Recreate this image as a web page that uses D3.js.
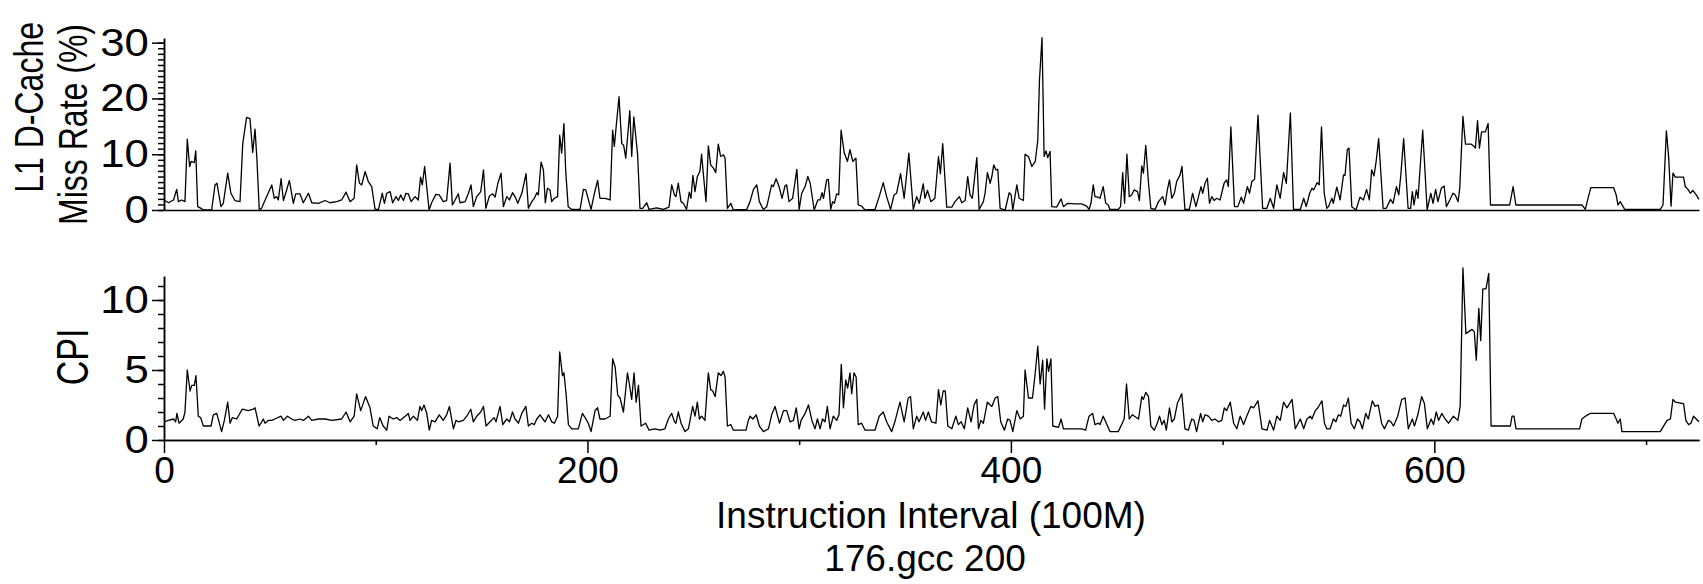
<!DOCTYPE html>
<html>
<head>
<meta charset="utf-8">
<script src="https://cdn.jsdelivr.net/npm/d3@7"></script>
<style>
  body { margin: 0; background: #fff; }
  svg { display: block; }
  .axis path, .axis line { stroke: #000; stroke-width: 1.5; }
  .axis text, .label { font-family: "Liberation Sans", Arial, sans-serif; font-size: 37px; fill: #000; }
  .yaxis text { font-size: 39px; }
  .trace { fill: none; stroke: #000; stroke-width: 1.3; stroke-linejoin: round; }
</style>
</head>
<body>
<svg id="chart" width="1703" height="584"></svg>
<script>
// Interval positions (100M instructions) and L1 D-cache miss rate (%)
const missX = [
  0, 2.1, 4.5, 6.0, 6.8, 8.3, 9.9, 11.0, 12.1, 12.8, 14.3, 15.0, 15.9, 17.5, 18.6, 22.5, 24.1, 25.0, 26.9, 28.0, 30.1, 31.6, 33.5, 35.9, 37.2, 39.0, 40.6, 41.9, 43.0, 43.9, 45.0, 46.1, 48.5, 50.9, 52.1, 53.2, 54.0, 55.3, 56.4, 57.5, 59.2, 61.1, 62.2, 64.2, 65.8, 68.2, 69.8, 72.9, 76.1, 78.4, 81.6, 83.9, 86.0, 87.9,
  89.8, 91.0, 92.3, 93.4, 95.0, 96.5, 98.1, 99.7, 101.3, 103.1, 104.1, 105.2, 106.8, 108.0, 109.6, 110.7, 111.8, 113.1, 114.3, 115.4, 116.7, 118.6, 120.1, 121.2, 122.0, 123.1, 125.2, 126.4, 128.4, 130.0, 131.9, 133.5, 135.1, 136.2, 137.4, 139.0, 139.8, 142.2, 143.8, 145.0, 146.1, 147.7, 149.6, 150.9, 152.0, 153.7, 155.3, 156.4, 157.7, 159.2, 160.3, 161.9, 163.2, 164.6, 165.8, 167.1, 169.0, 171.0, 172.1, 173.7, 174.9, 176.1, 176.8, 178.1, 179.2, 180.1, 181.1,
  182.3, 183.1, 184.4, 185.9, 186.9, 187.8, 188.9, 189.7, 190.9, 192.6, 196.5, 198.1, 199.2, 201.7, 203.3, 204.8, 205.9, 208.3, 210.7, 211.9, 212.7, 213.7, 214.9, 216.2, 217.1, 218.1, 220.0, 220.9, 221.9, 223.7, 224.8, 226.1, 228.0, 229.1, 232.7, 235.9, 238.5, 239.8, 241.1, 241.8, 242.9, 244.2, 245.3, 246.8, 248.1, 248.9, 249.8, 250.8, 251.9, 253.1, 253.9, 255.0, 256.0, 257.1, 258.2, 259.5, 260.6, 261.8, 262.9, 264.2, 265.0, 266.1, 267.7, 268.9,
  275.2, 276.8, 278.4, 280.0, 281.2, 283.1, 284.7, 287.0, 287.8, 289.1, 290.5, 291.9, 293.3, 294.1, 295.2, 296.9, 298.9, 300.0, 301.2, 302.8, 304.1, 305.2, 307.1, 308.8, 309.9, 310.8, 311.5, 313.0, 313.8, 314.9, 315.8, 316.6, 317.7, 318.7, 319.8, 321.3, 322.8, 324.0, 325.3, 326.8, 327.9, 329.5, 331.1, 335.8, 337.8, 339.7, 341.3, 343.2, 344.8, 346.0, 347.9, 349.6, 351.8, 353.9, 355.5, 356.7, 358.6, 359.4, 360.6, 362.2, 364.1,
  365.8, 366.7, 367.8, 369.7, 372.1, 373.6, 375.7, 376.8, 378.4, 379.6, 380.7, 381.8, 383.9, 385.0, 387.0, 387.8, 388.9, 390.2, 391.0, 391.9, 392.9, 393.8, 394.9, 397.3, 399.2, 400.1, 400.9, 402.8, 403.9, 405.9, 406.7, 408.3, 409.9, 411.5, 412.7, 413.5, 414.7, 415.7, 416.6, 417.4, 418.5, 419.3, 421.6, 423.7, 424.8, 426.8, 430.3, 433.4, 435.8, 436.9, 437.8, 438.9, 439.7, 441.0, 442.1, 443.6, 444.8, 446.0, 446.8, 450.7, 451.8, 452.8, 453.7, 454.8, 455.9, 457.0,
  458.2, 459.8, 460.7, 461.8, 462.6, 463.7, 465.0, 466.1, 468.1, 469.7, 471.7, 472.8, 473.9, 474.9, 476.0, 477.2, 478.3, 479.9, 480.8, 482.2, 484.3, 485.8, 487.4, 488.8, 489.8, 490.6, 491.7, 492.8, 493.8, 494.9, 496.0, 497.2, 498.8, 500.7, 501.9, 502.7, 503.9, 505.6, 507.2, 508.8, 509.9, 511.7, 512.7, 513.8, 515.1, 516.7, 518.9, 520.9, 522.5, 524.1, 525.6, 527.2, 528.8, 530.1, 532.0, 533.5, 536.7, 538.3, 539.5, 541.1, 542.2, 543.0, 544.6, 545.6, 546.7, 548.0, 549.2,
  550.0, 551.6, 552.3, 553.9, 555.5, 557.1, 557.8, 558.9, 559.7, 561.0, 563.0, 564.9, 566.5, 568.0, 569.3, 570.4, 571.5, 572.6, 573.7, 575.8, 577.3, 579.3, 580.5, 582.1, 583.2, 584.1, 585.5, 587.6, 588.8, 589.6, 590.4, 591.5, 592.3, 594.5, 596.6, 598.3, 599.4, 600.6, 601.7, 603.3, 604.6, 605.7, 607.3, 608.8, 609.9, 611.2, 612.0, 613.5, 614.7, 617.5, 618.8, 619.4, 620.4, 621.3, 622.3, 624.1, 625.4, 626.5, 635.6, 637.2, 638.5,
  669.7, 671.3, 672.8, 673.9, 684.7, 685.9, 686.7, 687.8, 689.9, 706.7, 708.0, 709.6, 710.7, 711.8, 712.7, 713.8, 717.7, 718.5, 719.8, 720.9, 722.1, 723.7, 725.0
]
const missRate = [
  1.8, 1.3, 1.8, 3.7, 1.5, 1.8, 1.5, 12.7, 7.8, 8.7, 8.5, 10.6, 0.6, 0.3, 0, 0, 4.5, 4.8, 0.6, 1.2, 6.6, 3.0, 1.7, 1.5, 11.9, 16.6, 16.4, 10.3, 14.5, 9.0, 0, 0.3, 2.4, 4.5, 2.1, 2.4, 1.8, 5.6, 1.7, 3.0, 5.3, 1.2, 2.9, 2.9, 1.3, 3.0, 1.3, 1.2, 1.7, 1.3, 1.5, 1.8, 3.2, 1.5,
  2.1, 8.1, 4.8, 4.5, 6.9, 5.1, 4.2, 0.1, 0.1, 3.0, 1.2, 3.0, 3.3, 1.3, 2.4, 1.7, 2.7, 1.7, 3.0, 2.9, 1.5, 2.4, 1.8, 5.9, 4.5, 7.8, 0, 1.3, 2.8, 2.7, 1.5, 1.7, 8.4, 0.9, 1.7, 2.9, 1.3, 1.5, 3.0, 4.5, 0.6, 2.4, 3.3, 7.2, 0.3, 2.5, 2.9, 2.3, 4.8, 6.6, 0.6, 2.4, 1.8, 3.1, 2.4, 1.2, 3.0, 6.5, 0.3, 1.5, 2.1, 3.1, 2.7, 8.6, 7.2, 1.3, 3.9,
  3.6, 1.5, 2.1, 2.4, 13.4, 10.2, 15.5, 7.2, 0.6, 0.1, 0.1, 3.7, 3.6, 0.1, 3.0, 5.3, 2.1, 2.1, 1.8, 14.3, 11.4, 15.5, 20.3, 11.9, 11.6, 9.3, 17.8, 9.6, 16.7, 9.9, 0.3, 0.3, 1.3, 0.1, 0.4, 0.1, 0.5, 4.5, 2.7, 2.4, 4.8, 1.5, 1.2, 0.1, 3.2, 2.1, 6.2, 3.3, 6.0, 6.9, 10.0, 5.4, 1.5, 11.5, 8.1, 7.5, 6.7, 11.8, 9.6, 9.9, 9.3, 0.3, 1.2, 0,
  0.1, 1.5, 3.7, 4.5, 1.5, 0.1, 0.6, 4.5, 4.2, 5.6, 4.2, 2.1, 4.3, 4.5, 1.5, 2.1, 7.3, 0.1, 3.0, 4.2, 6.0, 4.8, 0, 1.8, 1.8, 3.1, 2.1, 5.4, 5.5, 0.1, 1.5, 1.2, 2.9, 2.7, 14.3, 10.2, 8.7, 10.8, 8.7, 9.3, 0.9, 0.7, 0, 0.1, 2.4, 4.9, 2.4, 0.1, 2.7, 3.0, 6.5, 2.1, 10.2, 0.1, 2.4, 1.2, 4.7, 2.1, 3.5, 1.5, 2.1,
  9.6, 6.5, 11.9, 0.5, 0.5, 1.5, 2.4, 1.3, 1.7, 6.0, 2.7, 2.1, 9.4, 0.1, 1.5, 3.0, 6.7, 4.8, 6.0, 8.1, 7.2, 7.3, 0.3, 0, 3.1, 2.7, 0, 4.5, 2.1, 1.7, 10.0, 9.6, 7.8, 8.7, 12.5, 23.3, 30.9, 9.6, 10.6, 9.4, 10.5, 0.6, 0.5, 2.0, 0.6, 1.2, 1.1, 1.1, 0.7, 0.1, 1.2, 4.5, 2.4, 2.3, 2.1, 4.2, 1.2, 0.9, 0.1, 0.1, 0.6, 6.7, 1.2, 10.0, 2.4, 2.7,
  3.6, 3.3, 1.7, 7.9, 6.6, 11.6, 4.8, 0.3, 0.1, 1.5, 2.4, 0.9, 3.6, 5.4, 2.1, 3.0, 5.1, 6.3, 7.8, 0.1, 0.1, 3.0, 0.6, 2.7, 4.2, 3.0, 4.8, 5.7, 1.2, 2.4, 1.7, 2.1, 1.8, 4.8, 5.4, 4.2, 14.9, 0.6, 0.6, 2.3, 1.2, 4.2, 3.0, 5.1, 5.5, 17.0, 0.3, 0.3, 2.1, 0.3, 4.5, 2.1, 6.7, 4.8, 17.4, 0.1, 0.1, 2.1, 0.6, 3.0, 3.9, 3.6, 4.9, 4.5, 14.9, 3.0, 0.3,
  0.6, 2.1, 1.2, 4.1, 1.8, 6.3, 6.2, 10.8, 11.1, 0.6, 0, 2.3, 1.8, 3.7, 1.8, 7.2, 6.1, 9.0, 12.8, 0.3, 0.3, 1.9, 1.2, 4.2, 2.7, 6.0, 12.8, 0.3, 0.3, 3.3, 0.9, 3.6, 2.1, 14.3, 0, 3.0, 1.2, 3.7, 1.5, 3.9, 4.3, 0.6, 1.8, 3.0, 2.7, 1.5, 3.9, 16.8, 11.8, 11.8, 11.4, 11.1, 16.0, 11.1, 14.0, 14.0, 15.5, 0.9, 0.9, 4.2, 0.9,
  0.9, 0.1, 2.4, 4.0, 4.0, 2.7, 0.9, 1.5, 0.1, 0.1, 0.9, 14.2, 9.3, 0.7, 6.6, 5.9, 5.9, 4.2, 3.7, 3.0, 3.5, 2.7, 1.9
]

// Interval positions and cycles per instruction
const cpiX = [
  0, 2.1, 4.5, 5.5, 6.1, 7.1, 9.1, 9.9, 11.0, 12.3, 13.1, 14.3, 15.1, 16.2, 17.3, 18.6, 22.2, 23.3, 24.9, 26.0, 27.2, 28.5, 30.1, 31.2, 32.3, 34.3, 37.0, 39.8, 42.2, 43.0, 44.9, 45.8, 46.9, 47.7, 49.3, 50.9, 52.4, 55.3, 56.4, 58.3, 60.3, 61.9, 64.2, 65.8, 68.2, 69.8, 72.9, 76.1, 79.2, 83.9, 86.0, 87.9,
  89.8, 91.0, 92.9, 95.2, 97.3, 98.8, 100.7, 101.9, 103.5, 105.2, 106.3, 108.3, 109.9, 111.5, 113.9, 115.4, 116.2, 117.8, 119.7, 120.9, 121.7, 122.8, 124.1, 125.3, 126.4, 128.0, 130.0, 131.9, 133.5, 134.8, 136.7, 137.9, 139.0, 141.4, 143.0, 144.9, 146.1, 147.7, 149.6, 150.9, 152.1, 154.0, 155.9, 156.8, 158.7, 160.0, 161.9, 163.2, 164.6, 165.8, 167.4, 169.0, 170.9, 172.1, 173.7, 174.9, 176.1, 177.6, 178.9, 180.0, 181.6,
  183.1, 184.4, 185.9, 186.9, 188.2, 188.9, 189.9, 191.0, 192.6, 195.7, 197.6, 198.9, 200.4, 201.7, 203.6, 204.8, 205.9, 208.3, 210.7, 211.9, 213.1, 214.3, 215.4, 217.0, 218.9, 219.8, 220.9, 222.0, 223.0, 224.1, 225.3, 227.5, 229.1, 231.9, 234.3, 236.6, 238.2, 239.8, 241.1, 241.8, 242.9, 244.2, 246.1, 247.7, 249.7, 250.8, 251.9, 252.9, 253.9, 255.5, 257.1, 258.2, 259.2, 260.3, 261.8, 263.1, 264.2, 265.0, 266.1, 267.7, 268.9,
  274.9, 276.0, 276.8, 278.1, 279.7, 281.2, 283.1, 285.5, 287.0, 288.6, 290.7, 292.6, 294.1, 295.7, 297.3, 298.6, 300.0, 300.9, 302.8, 304.4, 306.0, 307.5, 308.6, 309.9, 311.0, 312.2, 313.3, 314.6, 316.1, 317.7, 318.8, 319.9, 320.9, 322.0, 322.9, 324.0, 324.8, 325.9, 326.9, 327.9, 329.5, 331.1, 335.8, 337.8, 339.7, 341.3, 343.7, 345.2, 347.6, 349.6, 351.5, 352.6, 353.9, 355.5, 356.6, 358.6, 359.7, 361.0, 362.5, 364.6,
  365.8, 366.9, 368.0, 369.0, 370.2, 372.1, 374.0, 375.2, 376.5, 378.0, 379.6, 381.2, 382.6, 383.9, 384.7, 385.8, 387.0, 388.9, 390.2, 391.0, 392.6, 393.8, 395.2, 396.9, 398.5, 399.6, 400.9, 402.8, 404.4, 405.9, 406.7, 408.3, 410.2, 411.5, 412.7, 413.8, 415.0, 415.9, 417.0, 417.8, 418.9, 419.8, 422.5, 423.7, 424.8, 427.2, 433.4, 435.3, 436.9, 438.6, 439.7, 441.3, 442.1, 443.6, 446.8, 450.7, 452.6, 453.5, 454.6, 455.9, 457.3,
  460.3, 461.8, 462.6, 463.7, 465.0, 466.1, 467.7, 468.9, 470.2, 471.3, 472.4, 473.4, 474.9, 476.0, 477.2, 478.6, 480.7, 482.2, 483.8, 485.4, 486.5, 487.7, 489.6, 490.6, 491.7, 493.3, 494.9, 496.4, 498.0, 499.6, 500.8, 501.9, 503.6, 505.2, 506.7, 508.3, 509.9, 511.4, 513.3, 514.6, 516.7, 518.6, 521.0, 522.2, 524.1, 525.6, 527.2, 528.8, 530.4, 532.8, 534.3, 536.7, 538.3, 539.8, 541.4, 542.2, 543.8, 545.0, 546.9, 548.1, 549.2,
  550.8, 552.3, 553.5, 554.7, 555.8, 557.1, 558.2, 559.4, 560.7, 562.2, 563.7, 564.9, 566.0, 567.6, 568.8, 570.7, 572.0, 573.5, 575.1, 576.4, 578.3, 579.5, 580.7, 582.7, 584.6, 586.2, 587.7, 589.6, 590.6, 592.2, 594.0, 595.3, 596.7, 598.5, 599.6, 600.9, 602.0, 603.5, 605.1, 606.7, 609.0, 611.1, 612.2, 613.5, 614.9, 617.8, 618.9, 619.8, 621.0, 621.9, 622.9, 624.4, 625.7, 626.8, 635.9, 636.7, 637.6, 638.6,
  668.6, 669.7, 671.3, 673.7, 684.7, 685.9, 686.7, 687.8, 688.6, 706.7, 709.9, 711.5, 712.7, 713.8, 717.7, 718.8, 720.1, 721.2, 722.4, 723.7, 725.0
]
const cpi = [
  1.3, 1.4, 1.5, 1.3, 1.9, 1.2, 1.5, 2.0, 5.0, 3.5, 3.9, 3.9, 4.6, 1.7, 1.6, 1.0, 1.0, 1.8, 1.9, 1.3, 0.6, 1.4, 2.7, 1.2, 1.6, 1.5, 2.2, 2.1, 2.2, 2.3, 1.0, 1.2, 1.5, 1.2, 1.4, 1.4, 1.5, 1.7, 1.4, 1.7, 1.5, 1.4, 1.5, 1.4, 1.7, 1.4, 1.5, 1.5, 1.4, 1.5, 2.0, 1.3,
  1.7, 3.3, 2.1, 3.1, 2.3, 1.0, 0.8, 1.6, 1.0, 0.7, 1.7, 1.5, 1.6, 1.4, 1.7, 1.9, 1.4, 1.7, 1.4, 2.4, 2.1, 2.5, 1.9, 0.7, 1.4, 1.3, 1.8, 1.4, 1.8, 2.4, 0.8, 1.4, 1.3, 1.4, 1.7, 2.2, 1.3, 1.7, 2.0, 2.4, 1.0, 1.3, 1.6, 1.3, 2.4, 1.1, 1.5, 1.3, 2.0, 1.5, 1.2, 1.9, 2.4, 1.0, 1.2, 1.1, 1.5, 1.8, 1.5, 1.3, 1.8,
  1.3, 1.2, 1.7, 6.3, 4.6, 4.8, 3.3, 1.1, 0.8, 0.8, 1.9, 1.6, 1.2, 0.6, 2.1, 2.3, 1.5, 1.5, 1.7, 5.8, 5.2, 3.2, 3.0, 2.0, 4.8, 4.0, 2.9, 4.8, 2.7, 3.9, 1.0, 1.2, 0.7, 0.8, 0.7, 0.8, 1.5, 1.9, 1.3, 1.2, 2.0, 1.2, 0.6, 0.8, 2.4, 1.7, 2.7, 1.5, 1.7, 1.4, 4.8, 3.6, 3.5, 3.1, 4.8, 4.6, 4.9, 4.5, 1.0, 1.1, 0.7,
  0.7, 1.4, 1.7, 1.5, 1.8, 1.0, 0.6, 0.8, 1.8, 2.4, 1.2, 2.1, 2.1, 1.3, 1.4, 2.3, 0.8, 1.4, 1.9, 2.5, 1.4, 0.8, 1.5, 0.8, 1.5, 1.3, 2.4, 0.8, 1.7, 1.4, 1.8, 5.4, 2.3, 4.3, 3.7, 4.8, 3.3, 4.8, 4.5, 1.1, 1.2, 0.7, 0.7, 1.7, 2.0, 1.3, 0.6, 1.3, 2.7, 1.3, 3.0, 3.1, 0.8, 1.7, 1.3, 2.0, 1.4, 2.0, 1.3, 1.2,
  3.6, 2.5, 3.5, 3.5, 1.0, 0.8, 1.7, 1.1, 1.3, 0.8, 2.3, 1.3, 2.5, 2.9, 0.8, 1.4, 1.2, 2.7, 2.5, 2.4, 3.0, 3.1, 1.3, 0.7, 1.5, 1.4, 0.6, 2.1, 1.5, 1.7, 5.0, 3.0, 3.0, 4.8, 6.7, 4.0, 5.7, 2.2, 5.8, 4.9, 5.8, 1.0, 0.9, 1.5, 0.8, 0.8, 0.8, 0.7, 1.7, 1.9, 1.1, 1.2, 1.1, 1.7, 0.6, 0.6, 1.2, 1.5, 4.0, 1.5, 1.8,
  1.5, 3.1, 2.9, 3.4, 3.1, 1.0, 0.7, 1.1, 1.7, 1.1, 1.4, 0.7, 2.3, 1.3, 1.5, 2.6, 3.3, 0.8, 0.7, 1.5, 1.4, 0.6, 1.9, 1.3, 1.8, 1.7, 1.4, 1.5, 1.3, 1.4, 2.3, 2.1, 2.7, 1.2, 0.8, 1.7, 1.1, 1.7, 2.4, 2.3, 2.8, 0.8, 0.7, 1.4, 0.7, 1.7, 1.4, 2.7, 2.3, 2.9, 0.8, 1.5, 0.8, 1.5, 1.7, 1.5, 2.1, 2.3, 2.8, 1.2, 0.8,
  0.8, 1.5, 1.3, 1.8, 1.7, 2.5, 2.4, 3.0, 1.2, 0.8, 1.5, 1.3, 0.8, 1.9, 1.5, 2.8, 2.4, 2.5, 1.2, 0.8, 1.4, 1.3, 1.0, 1.7, 2.9, 3.0, 0.8, 1.5, 1.0, 1.8, 3.1, 2.6, 0.8, 1.5, 1.1, 2.0, 1.4, 1.9, 1.5, 1.2, 1.7, 1.4, 2.4, 12.3, 7.6, 7.9, 7.7, 5.7, 9.4, 7.1, 10.8, 10.8, 11.9, 1.0, 1.0, 1.7, 1.7, 0.8,
  0.8, 1.5, 1.7, 1.9, 1.9, 1.5, 1.2, 1.5, 0.6, 0.6, 1.4, 1.5, 2.9, 2.7, 2.6, 1.4, 1.1, 1.2, 1.7, 1.5, 1.3
]

// Tick values for the axes
const missTicks = [0, 10, 20, 30]
const cpiTicks = [0, 5, 10]
const xTicks = [0, 200, 400, 600]
const xMinorTicks = [100, 300, 500, 700]

// the text on the left of the reference is drawn a bit wider than it is tall
const titleStretch = 1.28
const tickStretch = 1.12

const svg = d3.select('#chart')

// Scales shared by both panels (x) and one per panel (y)
const x = d3.scaleLinear().domain([0, 725]).range([164, 1699])
const yMiss = d3.scaleLinear().domain([0, 30.8]).range([210, 38.2])
const yCpi = d3.scaleLinear().domain([0, 11.7]).range([440, 276.2])

const stretchLabels = g => g.selectAll('text').attr('transform', 'scale(' + tickStretch + ',1)')

// Upper panel axes: labelled ticks, minor ticks every 1%, and the zero line
svg.append('g')
    .attr('class', 'axis yaxis')
    .attr('transform', 'translate(164,0)')
    .call(d3.axisLeft(yMiss).tickValues(missTicks).tickSize(12).tickSizeOuter(0).tickPadding(1.5))
    .call(stretchLabels)
svg.append('g')
    .attr('class', 'axis')
    .attr('transform', 'translate(164,0)')
    .call(d3.axisLeft(yMiss).tickValues(d3.range(0, 31)).tickSize(6).tickSizeOuter(0).tickFormat(''))
svg.append('g')
    .attr('class', 'axis')
    .attr('transform', 'translate(0,' + yMiss(0) + ')')
    .call(d3.axisBottom(x).tickValues([]).tickSizeOuter(0))

// Lower panel axes
svg.append('g')
    .attr('class', 'axis yaxis')
    .attr('transform', 'translate(164,0)')
    .call(d3.axisLeft(yCpi).tickValues(cpiTicks).tickSize(12).tickSizeOuter(0).tickPadding(1.5))
    .call(stretchLabels)
svg.append('g')
    .attr('class', 'axis')
    .attr('transform', 'translate(164,0)')
    .call(d3.axisLeft(yCpi).tickValues(d3.range(0, 12)).tickSize(6).tickSizeOuter(0).tickFormat(''))
svg.append('g')
    .attr('class', 'axis')
    .attr('transform', 'translate(0,' + yCpi(0) + ')')
    .call(d3.axisBottom(x).tickValues(xTicks).tickSize(13).tickSizeOuter(0).tickPadding(4))
svg.append('g')
    .attr('class', 'axis')
    .attr('transform', 'translate(0,' + yCpi(0) + ')')
    .call(d3.axisBottom(x).tickValues(xMinorTicks).tickSize(5).tickSizeOuter(0).tickFormat(''))

// The two traces
const missLine = d3.line()
  .x((d, i) => x(missX[i]))
  .y(d => yMiss(d))
const cpiLine = d3.line()
  .x((d, i) => x(cpiX[i]))
  .y(d => yCpi(d))

svg.append('path').attr('class', 'trace').attr('d', missLine(missRate))
svg.append('path').attr('class', 'trace').attr('d', cpiLine(cpi))

// Axis titles (the two-line one is aligned to the top of its panel)
const yTitle = (tx, ty, anchor, size, text) => {
  svg.append('text')
      .attr('class', 'label')
      .attr('transform', 'translate(' + tx + ',' + ty + ') scale(' + titleStretch + ',1) rotate(-90)')
      .attr('text-anchor', anchor)
      .attr('dy', '0.35em')
      .style('font-size', size + 'px')
      .text(text)
}
yTitle(29, 22, 'end', 32, 'L1 D-Cache')
yTitle(73, 24, 'end', 32, 'Miss Rate (%)')
yTitle(73, 357, 'middle', 34, 'CPI')

svg.append('text')
    .attr('class', 'label')
    .attr('x', 931)
    .attr('y', 528)
    .attr('text-anchor', 'middle')
    .text('Instruction Interval (100M)')
svg.append('text')
    .attr('class', 'label')
    .attr('x', 925)
    .attr('y', 571)
    .attr('text-anchor', 'middle')
    .text('176.gcc 200')
</script>
</body>
</html>
